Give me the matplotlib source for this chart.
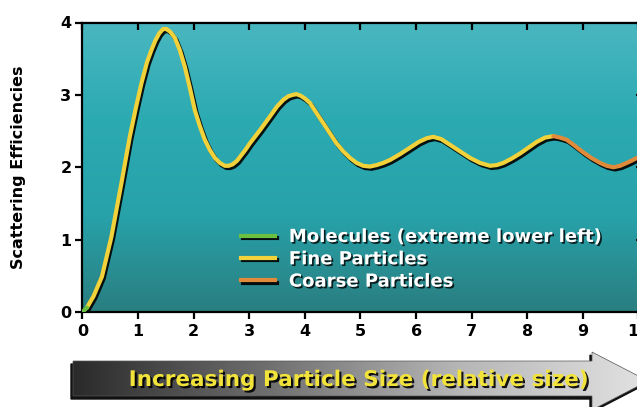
import numpy as np
import matplotlib
matplotlib.use("Agg")
import matplotlib.pyplot as plt
import matplotlib.patheffects as pe
from matplotlib.lines import Line2D
from matplotlib.patches import Polygon
from matplotlib.colors import LinearSegmentedColormap

# values
size = [0.0, 0.08, 0.2, 0.35, 0.52, 0.70, 0.85, 0.96, 1.06, 1.16, 1.24, 1.31, 1.38,
        1.45, 1.51, 1.58, 1.66, 1.75, 1.84, 1.93, 2.02, 2.11, 2.20, 2.29, 2.38, 2.47,
        2.56, 2.63, 2.70, 2.78, 2.85, 2.93, 3.01, 3.20, 3.37, 3.50, 3.61, 3.70, 3.78,
        3.85, 3.92, 4.00, 4.09, 4.20, 4.33, 4.45, 4.57, 4.69, 4.81, 4.93, 5.05, 5.17,
        5.29, 5.41, 5.53, 5.71, 5.89, 6.05, 6.19, 6.31, 6.45, 6.61, 6.79, 6.97, 7.15,
        7.33, 7.45, 7.57, 7.72, 7.87, 8.02, 8.17, 8.32, 8.47, 8.59, 8.71, 8.85, 9.00,
        9.15, 9.31, 9.43, 9.55, 9.67, 9.79, 9.90, 10.0, 10.1]
eff = [0.0, 0.06, 0.22, 0.49, 1.04, 1.78, 2.42, 2.82, 3.16, 3.45, 3.62, 3.75, 3.85,
       3.91, 3.91, 3.87, 3.79, 3.62, 3.39, 3.10, 2.79, 2.57, 2.38, 2.24, 2.13, 2.06,
       2.02, 2.02, 2.04, 2.09, 2.16, 2.24, 2.33, 2.52, 2.70, 2.84, 2.93, 2.98, 3.00,
       3.01, 2.99, 2.95, 2.89, 2.76, 2.61, 2.47, 2.33, 2.22, 2.13, 2.06, 2.02, 2.01,
       2.03, 2.06, 2.10, 2.18, 2.27, 2.35, 2.40, 2.42, 2.39, 2.31, 2.22, 2.13, 2.06,
       2.02, 2.03, 2.06, 2.12, 2.19, 2.27, 2.35, 2.41, 2.43, 2.41, 2.38, 2.30, 2.21,
       2.13, 2.06, 2.02, 2.00, 2.02, 2.06, 2.10, 2.14, 2.18]
fine_end = 8.53      # where the coarse (orange) part of the curve begins
molecule_end = 0.08  # molecules: tiny green bit at the lower left

labels = ["Molecules (extreme lower left)", "Fine Particles", "Coarse Particles"]
colors = ["#6cc040", "#f2d23a", "#e08a3a"]
xticks = list(range(0, 11))
yticks = [0, 1, 2, 3, 4]

size = np.array(size)
eff = np.array(eff)

fig = plt.figure(figsize=(6.37, 4.07), dpi=100)
ax = fig.add_axes([82.5 / 637, 95 / 407, (644 - 82.5) / 637, (312 - 22.5) / 407])
ax.set_xlim(0, 10.1)
ax.set_ylim(0, 4)

# teal gradient background
bg = LinearSegmentedColormap.from_list("bg", ["#2a7e80", "#27a2a9", "#2caab2", "#4ab7c0"])
ax.imshow(np.linspace(0, 1, 256).reshape(-1, 1), cmap=bg, origin="lower",
          extent=[0, 10.1, 0, 4], aspect="auto", zorder=0)

shadow = [pe.SimpleLineShadow(offset=(1.2, -1.6), shadow_color="black", alpha=0.9),
          pe.Normal()]

# curve pieces: green -> yellow -> orange
m1 = size <= molecule_end
m2 = (size >= molecule_end) & (size <= fine_end)
m3 = size >= 8.47
kw = dict(lw=3, solid_capstyle="round", solid_joinstyle="round", path_effects=shadow, zorder=3)
ax.plot(size[m2], eff[m2], color=colors[1], **kw)
ax.plot(size[m3], eff[m3], color=colors[2], **kw)
ax.plot(size[m1], eff[m1], color=colors[0], lw=3, solid_capstyle="round", zorder=4)

for s in ax.spines.values():
    s.set_linewidth(1.6)
ax.set_xticks(xticks)
ax.set_yticks(yticks)
ax.tick_params(axis="x", direction="out", length=5, width=1.6, labelsize=11.5, pad=4)
ax.tick_params(axis="y", direction="out", length=5, width=1.6, labelsize=11.5, pad=3)
for lab in ax.get_xticklabels() + ax.get_yticklabels():
    lab.set_fontweight("heavy")

# top / right ticks point inward
ax2 = ax.secondary_xaxis("top")
ax2.set_xticks(xticks)
ax2.tick_params(direction="in", length=6, width=1.6, labeltop=False)
ax3 = ax.secondary_yaxis("right")
ax3.set_yticks(yticks)
ax3.tick_params(direction="in", length=6, width=1.6, labelright=False)

ax.set_ylabel("Scattering Efficiencies", fontsize=11.5, fontweight="bold")
ax.yaxis.set_label_coords(-0.1, 0.5)

# legend
handles = [Line2D([], [], color=c, lw=3) for c in colors]
leg = fig.legend(handles, labels, loc="upper left", bbox_to_anchor=(241 / 637, 1 - 228 / 407),
                 frameon=False, borderpad=0, borderaxespad=0, handlelength=1.9,
                 handletextpad=0.75, labelspacing=0.24,
                 prop={"size": 13, "weight": "bold"})
for ln in leg.get_lines():
    ln.set_path_effects(shadow)
    ln.set_linewidth(3)
for t in leg.get_texts():
    t.set_color("white")
    t.set_path_effects([pe.SimplePatchShadow(offset=(1.2, -1.2), shadow_rgbFace="black", alpha=0.8),
                        pe.Normal()])

# arrow at the bottom, in pixel coordinates
ov = fig.add_axes([0, 0, 1, 1], zorder=5)
ov.set_xlim(0, 637)
ov.set_ylim(407, 0)
ov.axis("off")
ov.patch.set_alpha(0)
pts = [(73, 361), (592, 361), (592, 352), (648, 381), (592, 410), (592, 396), (73, 396)]
ov.add_patch(Polygon([(x - 2, y + 3) for x, y in pts], closed=True, color="#111111", zorder=1))
arrow = Polygon(pts, closed=True, facecolor="none", edgecolor="#555555", lw=0.5, zorder=3)
ov.add_patch(arrow)
grad = LinearSegmentedColormap.from_list("arr", ["#2a2a2a", "#6e6e6e", "#b5b5b5", "#e2e2e2"])
img = ov.imshow(np.linspace(0, 1, 256).reshape(1, -1), cmap=grad, extent=[73, 648, 410, 352],
                aspect="auto", zorder=2)
img.set_clip_path(arrow)
ov.text(358, 380, "Increasing Particle Size (relative size)", color="#f2e33a",
        fontsize=15.5, fontweight="bold", ha="center", va="center", zorder=4,
        path_effects=[pe.SimplePatchShadow(offset=(1.5, -1.5), shadow_rgbFace="black", alpha=0.9),
                      pe.Normal()])

fig.savefig("out.png", dpi=100)
